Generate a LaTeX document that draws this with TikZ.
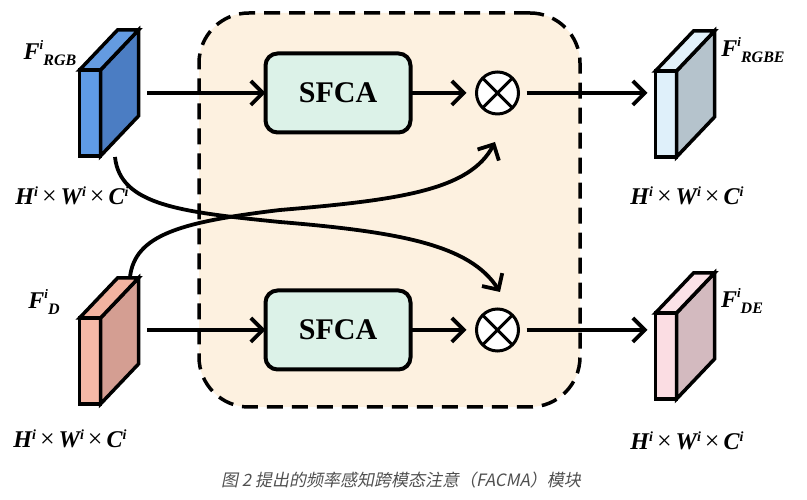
\documentclass[tikz,border=0pt]{standalone}
\usepackage{fontspec}
\setmainfont{Liberation Serif}
\newfontfamily\cjk[FakeSlant=0.2]{Noto Sans CJK SC}
\usetikzlibrary{arrows.meta, positioning, calc}
\definecolor{blockbg}{HTML}{FDF1E0}
\definecolor{sfcabg}{HTML}{DCF2E8}
\definecolor{rgbfront}{HTML}{5F9BE6}
\definecolor{rgbside}{HTML}{4B7DC3}
\definecolor{rgbtop}{HTML}{649BE1}
\definecolor{depfront}{HTML}{F5B8A6}
\definecolor{depside}{HTML}{D49E92}
\definecolor{deptop}{HTML}{F2B3A0}
\definecolor{rgbefront}{HTML}{DFF0FA}
\definecolor{rgbeside}{HTML}{B5C3CC}
\definecolor{rgbetop}{HTML}{E2F1FA}
\definecolor{defront}{HTML}{FBDDE3}
\definecolor{deside}{HTML}{D3BABF}
\definecolor{detop}{HTML}{FBE2E7}
\definecolor{capgray}{HTML}{505050}

% feature map drawn as a thin cuboid: name, position, front, side, top
\newcommand{\featmap}[5]{%
  \node[feat, fill=#3] (#1) at (#2) {};
  \filldraw[cube, fill=#4] (#1.north east) -- ++(38,40) -- ++(0,-86) -- (#1.south east) -- cycle;
  \filldraw[cube, fill=#5] (#1.north west) -- ++(38,40) -- ++(21,0) -- (#1.north east) -- cycle;}
\newcommand{\fmap}[1]{F\raisebox{.42em}{\fontsize{13}{13}\selectfont i}\raisebox{-.28em}{\fontsize{16}{16}\selectfont #1}}
\newcommand{\hwc}{H\raisebox{.36em}{\fontsize{14}{14}\selectfont i}\,{\normalfont\fontsize{26}{26}\selectfont ×}\,W\raisebox{.36em}{\fontsize{14}{14}\selectfont i}\,{\normalfont\fontsize{26}{26}\selectfont ×}\,C\raisebox{.36em}{\fontsize{14}{14}\selectfont i}}

\begin{document}
\begin{tikzpicture}[x=1pt, y=1pt,
    node distance=66pt,
    feat/.style={rectangle, draw, line width=3.5pt, minimum width=21pt, minimum height=86pt,
                 inner sep=0pt, outer sep=0pt},
    cube/.style={draw, line width=3.5pt},
    frame/.style={rectangle, rounded corners=50pt, draw, dash pattern=on 16pt off 9pt, line width=3.5pt,
                  fill=blockbg, minimum width=381pt, minimum height=394pt, outer sep=0pt},
    sfca/.style={rectangle, rounded corners=12pt, draw, line width=4pt, fill=sfcabg,
                 minimum width=145pt, minimum height=79pt, outer sep=0pt,
                 font=\fontsize{30}{32}\selectfont\bfseries},
    mul/.style={circle, draw, line width=3pt, fill=white, minimum size=42pt, inner sep=0pt, outer sep=0pt,
                path picture={\draw[line width=3pt]
                  (path picture bounding box.north west) -- (path picture bounding box.south east)
                  (path picture bounding box.north east) -- (path picture bounding box.south west);}},
    arr/.style={-{Straight Barb[length=12pt, width=24pt]}, line width=3.8pt},
    lbl/.style={font=\fontsize{24}{26}\selectfont\bfseries\itshape, inner sep=0pt}
  ]
  \useasboundingbox (0,0) rectangle (807,500);

  \node[frame] (blk) at (389.5,290) {};

  \node[sfca] (sfca1) at (338,407) {SFCA};
  \node[mul, right=of sfca1] (mul1) {};
  \node[sfca] (sfca2) at (338,170) {SFCA};
  \node[mul, right=of sfca2] (mul2) {};

  \featmap{rgb}{90,387}{rgbfront}{rgbside}{rgbtop}
  \featmap{dep}{90,139}{depfront}{depside}{deptop}
  \featmap{rgbe}{666,386}{rgbefront}{rgbeside}{rgbetop}
  \featmap{de}{666,144}{defront}{deside}{detop}

  \node[lbl] (lrgb) at (50,447) {\fmap{RGB}};
  \node[lbl] (ldep) at (44,198) {\fmap{D}};
  \node[lbl] (lrgbe) at (753,450) {\fmap{RGBE}};
  \node[lbl] (lde) at (742,199) {\fmap{DE}};
  \node[lbl] (srgb) at (72,304) {\hwc};
  \node[lbl] (sdep) at (70,61) {\hwc};
  \node[lbl] (srgbe) at (687,304) {\hwc};
  \node[lbl] (sde) at (687,59) {\hwc};

  % straight paths
  \coordinate (rgbout) at (147,407);
  \coordinate (depout) at (147,170);
  \draw[arr] (rgbout) -- (sfca1);
  \draw[arr, shorten >=10pt] (sfca1) -- (mul1);
  \draw[arr, shorten <=8pt, shorten >=8pt] (mul1) -- (mul1 -| rgbe.west);
  \draw[arr] (depout) -- (sfca2);
  \draw[arr, shorten >=10pt] (sfca2) -- (mul2);
  \draw[arr, shorten <=8pt, shorten >=8pt] (mul2) -- (mul2 -| de.west);

  % cross paths
  \coordinate (rgbtail) at (115,343);
  \coordinate (deptail) at (130,223);
  \coordinate (mul2in) at (500,208);
  \coordinate (mul1in) at (495,358);
  \draw[arr] (rgbtail) .. controls (120,295) and (180,288) .. (280,278)
                       .. controls (400,268) and (470,255) .. (mul2in);
  \draw[arr] (deptail) .. controls (135,265) and (180,278) .. (280,290)
                       .. controls (400,300) and (470,310) .. (mul1in);

  \node[font=\cjk\fontsize{17}{19}\selectfont, text=capgray] (cap) at (401,20)
    {图 2 提出的频率感知跨模态注意（FACMA）模块};
\end{tikzpicture}
\end{document}
